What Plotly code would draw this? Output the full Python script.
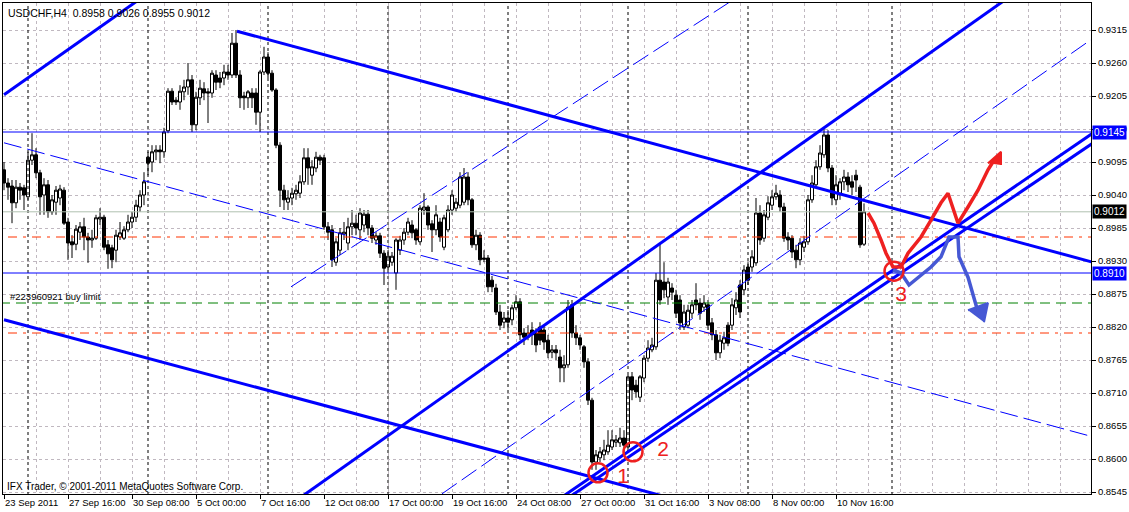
import plotly.graph_objects as go

# ---------------- data ----------------
bar_index = list(range(216))

open_ = [
0.9082, 0.9060, 0.9055, 0.9027, 0.9053, 0.9052, 0.9037, 0.9098, 0.9107, 0.9077,
0.9040, 0.9057, 0.9012, 0.9028, 0.9035, 0.9048, 0.8995, 0.8962, 0.8958, 0.8978,
0.8987, 0.8970, 0.8965, 0.8968, 0.9000, 0.9003, 0.8957, 0.8952, 0.8948, 0.8970,
0.8968, 0.8982, 0.8995, 0.9003, 0.9020, 0.9040, 0.9103, 0.9095, 0.9112, 0.9115,
0.9112, 0.9147, 0.9213, 0.9198, 0.9195, 0.9212, 0.9220, 0.9232, 0.9157, 0.9202,
0.9217, 0.9212, 0.9210, 0.9240, 0.9235, 0.9235, 0.9245, 0.9240, 0.9293, 0.9240,
0.9205, 0.9202, 0.9210, 0.9210, 0.9178, 0.9245, 0.9270, 0.9243, 0.9215, 0.9123,
0.9048, 0.9028, 0.9035, 0.9042, 0.9043, 0.9062, 0.9102, 0.9073, 0.9085, 0.9103,
0.9102, 0.8987, 0.8982, 0.8928, 0.8948, 0.8975, 0.8960, 0.8987, 0.8993, 0.8982,
0.8990, 0.9008, 0.8985, 0.8965, 0.8972, 0.8943, 0.8920, 0.8928, 0.8910, 0.8948,
0.8965, 0.8978, 0.8990, 0.8982, 0.8962, 0.9015, 0.9020, 0.8992, 0.8982, 0.8995,
0.8953, 0.8982, 0.9015, 0.9018, 0.9023, 0.9028, 0.9070, 0.9032, 0.8957, 0.8973,
0.8935, 0.8935, 0.8898, 0.8885, 0.8845, 0.8828, 0.8835, 0.8832, 0.8852, 0.8862,
0.8810, 0.8803, 0.8815, 0.8810, 0.8820, 0.8815, 0.8798, 0.8778, 0.8782, 0.8770,
0.8752, 0.8757, 0.8857, 0.8810, 0.8802, 0.8787, 0.8762, 0.8698, 0.8595, 0.8602,
0.8607, 0.8612, 0.8620, 0.8628, 0.8627, 0.8635, 0.8620, 0.8737, 0.8723, 0.8703,
0.8735, 0.8768, 0.8782, 0.8787, 0.8898, 0.8895, 0.8870, 0.8885, 0.8873, 0.8865,
0.8820, 0.8823, 0.8843, 0.8865, 0.8860, 0.8853, 0.8857, 0.8827, 0.8807, 0.8777,
0.8793, 0.8823, 0.8823, 0.8852, 0.8890, 0.8882, 0.8920, 0.8920, 0.8927, 0.9010,
0.8968, 0.9003, 0.9023, 0.9037, 0.9040, 0.9020, 0.8970, 0.8968, 0.8948, 0.8932,
0.8953, 0.8962, 0.9032, 0.9057, 0.9087, 0.9107, 0.9140, 0.9085, 0.9032, 0.9043,
0.9062, 0.9070, 0.9062, 0.9073, 0.9053, 0.8958]

high = [
0.9095, 0.9068, 0.9065, 0.9065, 0.9060, 0.9057, 0.9112, 0.9143, 0.9118, 0.9082,
0.9068, 0.9065, 0.9040, 0.9055, 0.9057, 0.9053, 0.9002, 0.8973, 0.8990, 0.8995,
0.9002, 0.8977, 0.8982, 0.9007, 0.9018, 0.9007, 0.8965, 0.8957, 0.8982, 0.8995,
0.8988, 0.9007, 0.9012, 0.9032, 0.9048, 0.9078, 0.9112, 0.9123, 0.9123, 0.9123,
0.9152, 0.9218, 0.9218, 0.9203, 0.9223, 0.9232, 0.9260, 0.9240, 0.9212, 0.9232,
0.9228, 0.9218, 0.9248, 0.9248, 0.9245, 0.9257, 0.9257, 0.9310, 0.9315, 0.9248,
0.9212, 0.9215, 0.9218, 0.9218, 0.9248, 0.9287, 0.9278, 0.9248, 0.9218, 0.9128,
0.9057, 0.9048, 0.9052, 0.9057, 0.9073, 0.9118, 0.9118, 0.9098, 0.9112, 0.9107,
0.9107, 0.8995, 0.8990, 0.8968, 0.8985, 0.8995, 0.9002, 0.9015, 0.9007, 0.9018,
0.9015, 0.9015, 0.8990, 0.8978, 0.8977, 0.8948, 0.8948, 0.8945, 0.8968, 0.8972,
0.8985, 0.9002, 0.8998, 0.8985, 0.9023, 0.9043, 0.9023, 0.8998, 0.9023, 0.9002,
0.9007, 0.9023, 0.9048, 0.9035, 0.9078, 0.9085, 0.9078, 0.9035, 0.8982, 0.8978,
0.8948, 0.8940, 0.8905, 0.8892, 0.8857, 0.8845, 0.8848, 0.8857, 0.8873, 0.8868,
0.8818, 0.8823, 0.8828, 0.8818, 0.8828, 0.8823, 0.8807, 0.8790, 0.8790, 0.8782,
0.8773, 0.8865, 0.8865, 0.8823, 0.8807, 0.8790, 0.8768, 0.8702, 0.8615, 0.8620,
0.8632, 0.8648, 0.8648, 0.8640, 0.8652, 0.8648, 0.8740, 0.8745, 0.8732, 0.8740,
0.8773, 0.8798, 0.8802, 0.8910, 0.8960, 0.8928, 0.8902, 0.8893, 0.8882, 0.8873,
0.8857, 0.8857, 0.8865, 0.8893, 0.8868, 0.8873, 0.8865, 0.8835, 0.8815, 0.8807,
0.8812, 0.8828, 0.8868, 0.8878, 0.8898, 0.8923, 0.8928, 0.8948, 0.9035, 0.9023,
0.9015, 0.9038, 0.9048, 0.9057, 0.9048, 0.9027, 0.8978, 0.8973, 0.8957, 0.8968,
0.8972, 0.9040, 0.9073, 0.9098, 0.9123, 0.9153, 0.9148, 0.9090, 0.9073, 0.9068,
0.9082, 0.9078, 0.9073, 0.9082, 0.9057, 0.9026]

low = [
0.9048, 0.9032, 0.8993, 0.9018, 0.9032, 0.9015, 0.9032, 0.9090, 0.9068, 0.9007,
0.9007, 0.9002, 0.9007, 0.9007, 0.9023, 0.8990, 0.8932, 0.8935, 0.8948, 0.8965,
0.8948, 0.8927, 0.8952, 0.8965, 0.8990, 0.8948, 0.8917, 0.8918, 0.8928, 0.8965,
0.8965, 0.8978, 0.8985, 0.8995, 0.9012, 0.9023, 0.9073, 0.9078, 0.9098, 0.9093,
0.9102, 0.9143, 0.9190, 0.9190, 0.9182, 0.9198, 0.9207, 0.9145, 0.9148, 0.9190,
0.9198, 0.9160, 0.9202, 0.9215, 0.9218, 0.9223, 0.9232, 0.9235, 0.9235, 0.9185,
0.9182, 0.9185, 0.9185, 0.9157, 0.9145, 0.9240, 0.9235, 0.9212, 0.9118, 0.9020,
0.9015, 0.9015, 0.9023, 0.9032, 0.9035, 0.9057, 0.9057, 0.9057, 0.9078, 0.9090,
0.8982, 0.8965, 0.8920, 0.8922, 0.8940, 0.8965, 0.8948, 0.8973, 0.8973, 0.8965,
0.8978, 0.8973, 0.8960, 0.8957, 0.8935, 0.8890, 0.8915, 0.8922, 0.8882, 0.8940,
0.8957, 0.8973, 0.8968, 0.8957, 0.8957, 0.9007, 0.8982, 0.8945, 0.8973, 0.8962,
0.8948, 0.8978, 0.9007, 0.9012, 0.9018, 0.9023, 0.9023, 0.8952, 0.8948, 0.8923,
0.8928, 0.8878, 0.8878, 0.8840, 0.8815, 0.8818, 0.8815, 0.8823, 0.8848, 0.8798,
0.8790, 0.8798, 0.8790, 0.8778, 0.8790, 0.8782, 0.8768, 0.8768, 0.8765, 0.8728,
0.8728, 0.8752, 0.8802, 0.8790, 0.8782, 0.8752, 0.8690, 0.8582, 0.8582, 0.8595,
0.8598, 0.8607, 0.8615, 0.8620, 0.8620, 0.8612, 0.8612, 0.8698, 0.8702, 0.8695,
0.8728, 0.8762, 0.8778, 0.8782, 0.8857, 0.8868, 0.8857, 0.8865, 0.8835, 0.8815,
0.8815, 0.8818, 0.8835, 0.8848, 0.8832, 0.8845, 0.8815, 0.8798, 0.8765, 0.8768,
0.8782, 0.8788, 0.8815, 0.8840, 0.8835, 0.8873, 0.8890, 0.8912, 0.8922, 0.8957,
0.8962, 0.8998, 0.9015, 0.9032, 0.9012, 0.8962, 0.8948, 0.8935, 0.8918, 0.8923,
0.8945, 0.8957, 0.9027, 0.9052, 0.9082, 0.9102, 0.9078, 0.9023, 0.9023, 0.9032,
0.9048, 0.9045, 0.9040, 0.9045, 0.8952, 0.8955]

close = [
0.9060, 0.9053, 0.9027, 0.9053, 0.9048, 0.9040, 0.9098, 0.9107, 0.9077, 0.9037,
0.9057, 0.9012, 0.9032, 0.9048, 0.9050, 0.8993, 0.8960, 0.8957, 0.8983, 0.8987,
0.8970, 0.8965, 0.8968, 0.9002, 0.9003, 0.8953, 0.8942, 0.8932, 0.8973, 0.8977,
0.8982, 0.8995, 0.9003, 0.9023, 0.9040, 0.9062, 0.9093, 0.9112, 0.9115, 0.9112,
0.9145, 0.9213, 0.9195, 0.9195, 0.9213, 0.9220, 0.9232, 0.9157, 0.9203, 0.9218,
0.9210, 0.9210, 0.9243, 0.9228, 0.9228, 0.9245, 0.9240, 0.9293, 0.9240, 0.9202,
0.9202, 0.9212, 0.9202, 0.9178, 0.9245, 0.9270, 0.9243, 0.9215, 0.9123, 0.9048,
0.9032, 0.9035, 0.9043, 0.9048, 0.9062, 0.9102, 0.9085, 0.9087, 0.9103, 0.9098,
0.8987, 0.8978, 0.8932, 0.8962, 0.8977, 0.8978, 0.8987, 0.8993, 0.8985, 0.9010,
0.9008, 0.8985, 0.8968, 0.8972, 0.8943, 0.8918, 0.8938, 0.8938, 0.8965, 0.8965,
0.8978, 0.8995, 0.8977, 0.8965, 0.9018, 0.9020, 0.8990, 0.8982, 0.9007, 0.8970,
0.9002, 0.9015, 0.9040, 0.9028, 0.9070, 0.9070, 0.9032, 0.8957, 0.8973, 0.8932,
0.8933, 0.8887, 0.8887, 0.8845, 0.8823, 0.8835, 0.8828, 0.8852, 0.8862, 0.8807,
0.8803, 0.8810, 0.8807, 0.8790, 0.8798, 0.8795, 0.8777, 0.8782, 0.8777, 0.8752,
0.8757, 0.8853, 0.8810, 0.8802, 0.8790, 0.8762, 0.8698, 0.8595, 0.8607, 0.8612,
0.8615, 0.8623, 0.8632, 0.8632, 0.8635, 0.8623, 0.8737, 0.8715, 0.8712, 0.8737,
0.8768, 0.8785, 0.8790, 0.8898, 0.8865, 0.8882, 0.8895, 0.8878, 0.8843, 0.8827,
0.8845, 0.8848, 0.8857, 0.8857, 0.8843, 0.8860, 0.8823, 0.8807, 0.8777, 0.8798,
0.8802, 0.8793, 0.8857, 0.8865, 0.8845, 0.8915, 0.8898, 0.8937, 0.9010, 0.8965,
0.9007, 0.9027, 0.9037, 0.9043, 0.9020, 0.8968, 0.8965, 0.8945, 0.8932, 0.8960,
0.8962, 0.9032, 0.9060, 0.9087, 0.9110, 0.9140, 0.9085, 0.9035, 0.9057, 0.9062,
0.9070, 0.9057, 0.9053, 0.9065, 0.8957, 0.9012]

x_tick_bars = [0, 16, 32, 48, 64, 80, 96, 112, 128, 144, 160, 176, 192, 208]
x_tick_labels = ["23 Sep 2011", "27 Sep 16:00", "30 Sep 08:00", "5 Oct 00:00",
                 "7 Oct 16:00", "12 Oct 08:00", "17 Oct 00:00", "19 Oct 16:00",
                 "24 Oct 08:00", "27 Oct 00:00", "31 Oct 16:00", "3 Nov 08:00",
                 "8 Nov 00:00", "10 Nov 16:00"]
y_tick_values = [0.8545, 0.8600, 0.8655, 0.8710, 0.8765, 0.8820, 0.8875, 0.8930,
                 0.8985, 0.9040, 0.9095, 0.9150, 0.9205, 0.9260, 0.9315]

week_start_bars = [6, 36, 66, 96, 126, 156, 186]
vertical_marker_bars = [222]

level_upper = 0.9145
level_lower = 0.8910
bid_price = 0.9012
buy_limit_price = 0.8860
take_profit_price = 0.8970
stop_loss_price = 0.8810

# trend-line anchors: bars / prices
topleft_bars, topleft_prices = [0, 40], [0.9207, 0.9395]
upper_channel_bars, upper_channel_prices = [75, 260], [0.8540, 0.9411]
lower_a_bars, lower_a_prices = [135, 275], [0.8516, 0.9156]
lower_b_bars, lower_b_prices = [135, 275], [0.8508, 0.9139]
desc_top_bars, desc_top_prices = [58.25, 275], [0.9313, 0.8923]
desc_bottom_bars, desc_bottom_prices = [0, 175], [0.8832, 0.8520]
desc_median_bars, desc_median_prices = [0, 275], [0.9127, 0.8632]
asc_dash_upper_bars, asc_dash_upper_prices = [71.75, 185], [0.8887, 0.9377]
asc_dash_mid_bars, asc_dash_mid_prices = [109.5, 275], [0.8542, 0.9314]

# hand drawn annotations
red_path_bars = [216, 217.5, 219.25, 220.5, 222.25, 224.25, 226, 229.25, 231.75,
                 234.25, 236, 237.25, 238.5, 241, 243.5, 246, 247.5]
red_path_prices = [0.9010, 0.8993, 0.8965, 0.8943, 0.8920, 0.8920, 0.8943, 0.8970,
                   0.8998, 0.9027, 0.9043, 0.9020, 0.8993, 0.9020, 0.9048, 0.9082, 0.9098]
red_head_bars, red_head_prices = [246, 249.25, 249.25], [0.9093, 0.9112, 0.9090]
blue_path_bars = [222.25, 224.25, 226.25, 228.5, 231.75, 234.25, 236.25, 238.5,
                  238.75, 241, 242.5, 243.5]
blue_path_prices = [0.8915, 0.8910, 0.8890, 0.8902, 0.8920, 0.8937, 0.8970, 0.8970,
                    0.8937, 0.8903, 0.8870, 0.8845]
blue_head_bars, blue_head_prices = [241, 246, 245], [0.8848, 0.8860, 0.8828]
circle_bars, circle_prices = [148.5, 157.25, 222.5], [0.8577, 0.8612, 0.8913]
number_texts = ["1", "2", "3"]
number_bars, number_prices = [154.75, 164.75, 224.25], [0.8568, 0.8613, 0.8872]

# ---------------- figure ----------------
FONT = "Tahoma, 'Liberation Sans', Arial, sans-serif"
BLUE = "#0000ff"
GRID = "#c0b8c0"

fig = go.Figure()

def hline(price, color, width, dash):
    fig.add_trace(go.Scatter(x=[-5, 300], y=[price, price], mode="lines",
                             line=dict(color=color, width=width, dash=dash),
                             hoverinfo="skip"))

def vline(bar, color, dash):
    fig.add_trace(go.Scatter(x=[bar, bar], y=[0.80, 0.99], mode="lines",
                             line=dict(color=color, width=1, dash=dash),
                             hoverinfo="skip"))

for b in week_start_bars + vertical_marker_bars:
    vline(b, "#000000", "3px,3px")

hline(bid_price, "#b0c0b0", 1, "solid")
hline(take_profit_price, "#ff3300", 1, "9px,6px,3px,6px")
hline(stop_loss_price, "#ff3300", 1, "9px,6px,3px,6px")
hline(buy_limit_price, "#008000", 1, "10px,6px")

fig.add_trace(go.Candlestick(
    x=bar_index, open=open_, high=high, low=low, close=close,
    increasing=dict(line=dict(color="#000000", width=1), fillcolor="#ffffff"),
    decreasing=dict(line=dict(color="#000000", width=1), fillcolor="#000000"),
    whiskerwidth=0, hoverinfo="skip"))

hline(level_upper, BLUE, 1, "solid")
hline(level_lower, BLUE, 1, "solid")

def tline(bx, py, width, dash="solid"):
    fig.add_trace(go.Scatter(x=bx, y=py, mode="lines",
                             line=dict(color=BLUE, width=width, dash=dash),
                             hoverinfo="skip"))

tline(topleft_bars, topleft_prices, 3)
tline(upper_channel_bars, upper_channel_prices, 3)
tline(lower_a_bars, lower_a_prices, 3)
tline(lower_b_bars, lower_b_prices, 3)
tline(desc_top_bars, desc_top_prices, 3)
tline(desc_bottom_bars, desc_bottom_prices, 3)
tline(desc_median_bars, desc_median_prices, 1, "18px,6px")
tline(asc_dash_upper_bars, asc_dash_upper_prices, 1, "18px,6px")
tline(asc_dash_mid_bars, asc_dash_mid_prices, 1, "18px,6px")

RED = "#ee2020"
HBLUE = "#4658d4"
fig.add_trace(go.Scatter(x=red_path_bars, y=red_path_prices, mode="lines",
                         line=dict(color=RED, width=3.5), hoverinfo="skip"))
fig.add_trace(go.Scatter(x=red_head_bars, y=red_head_prices, mode="lines",
                         fill="toself", fillcolor=RED,
                         line=dict(color=RED, width=2), hoverinfo="skip"))
fig.add_trace(go.Scatter(x=blue_path_bars, y=blue_path_prices, mode="lines",
                         line=dict(color=HBLUE, width=3.5), hoverinfo="skip"))
fig.add_trace(go.Scatter(x=blue_head_bars, y=blue_head_prices, mode="lines",
                         fill="toself", fillcolor=HBLUE,
                         line=dict(color=HBLUE, width=2), hoverinfo="skip"))
fig.add_trace(go.Scatter(x=circle_bars, y=circle_prices, mode="markers",
                         marker=dict(symbol="circle-open", size=19, color=RED,
                                     line=dict(color=RED, width=2.5)),
                         hoverinfo="skip"))
fig.add_trace(go.Scatter(x=number_bars, y=number_prices, mode="text",
                         text=number_texts,
                         textfont=dict(family="'Liberation Sans', Arial", size=21, color=RED),
                         hoverinfo="skip"))

annotations = [
    dict(xref="paper", yref="paper", x=0, y=1, xanchor="left", yanchor="top",
         xshift=3, yshift=-2, text="USDCHF,H4\u00a0 0.8958 0.9026 0.8955 0.9012",
         showarrow=False, font=dict(family=FONT, size=10.5, color="#000000")),
    dict(xref="paper", yref="y", x=0, y=buy_limit_price, xanchor="left", yanchor="bottom",
         xshift=5, yshift=-1, text="#223960921 buy limit",
         showarrow=False, font=dict(family=FONT, size=9.5, color="#000000")),
    dict(xref="paper", yref="paper", x=0, y=0, xanchor="left", yanchor="bottom",
         xshift=2, yshift=0, text="IFX Trader, \u00a9 2001-2011 MetaQuotes Software Corp.",
         showarrow=False, font=dict(family=FONT, size=10, color="#000000")),
]
for price, bg in [(level_upper, BLUE), (bid_price, "#000000"), (level_lower, BLUE)]:
    annotations.append(dict(xref="paper", yref="y", x=1, y=price, xanchor="left",
                            yanchor="middle", xshift=1, text=f"{price:.4f}",
                            showarrow=False, bgcolor=bg, borderpad=1,
                            font=dict(family=FONT, size=10, color="#ffffff")))

fig.update_layout(
    width=1129, height=512,
    margin=dict(l=3, r=38, t=3, b=18, autoexpand=False),
    paper_bgcolor="#ffffff", plot_bgcolor="#ffffff",
    showlegend=False, boxgap=0.25, boxgroupgap=0,
    annotations=annotations,
    font=dict(family=FONT, size=10, color="#000000"),
)
fig.update_xaxes(
    range=[-0.25, 271.75], rangeslider=dict(visible=False),
    tickmode="array", tickvals=x_tick_bars, ticktext=x_tick_labels,
    ticks="outside", ticklen=4, tickcolor="#000000", tickangle=0, automargin=False,
    ticklabelposition="outside right",
    tickfont=dict(family=FONT, size=9.5, color="#000000"),
    showgrid=True, gridcolor=GRID, griddash="3px,3px", gridwidth=1,
    minor=dict(tick0=0, dtick=8, showgrid=True, gridcolor=GRID,
               griddash="3px,3px", ticks=""),
    showline=True, linecolor="#000000", linewidth=1, mirror=True, zeroline=False,
)
fig.update_yaxes(
    range=[0.854167, 0.9360], side="right", automargin=False,
    tickmode="array", tickvals=y_tick_values, tickformat=".4f",
    ticks="outside", ticklen=4, tickcolor="#000000",
    tickfont=dict(family=FONT, size=9.5, color="#000000"),
    showgrid=True, gridcolor=GRID, griddash="3px,3px", gridwidth=1,
    showline=True, linecolor="#000000", linewidth=1, mirror=True, zeroline=False,
)

fig.write_html("out.html", config={"displayModeBar": False},
               post_script="document.body.style.margin='0px';")
